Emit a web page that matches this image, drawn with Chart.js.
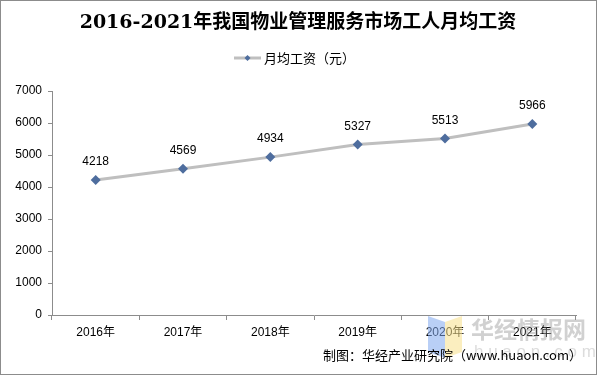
<!DOCTYPE html>
<html>
<head>
<meta charset="utf-8">
<script src="https://cdn.jsdelivr.net/npm/chart.js@4.4.0/dist/chart.umd.min.js"></script>
<style>
  body { margin: 0; background: #fff; }
  #box { position: relative; width: 597px; height: 375px; }
</style>
</head>
<body>
<div id="box"><canvas id="wageChart" width="597" height="375"></canvas></div>
<script>
// 数据
let years = ['2016年', '2017年', '2018年', '2019年', '2020年', '2021年'];
let wages = [4218, 4569, 4934, 5327, 5513, 5966];
let yTicks = [0, 1000, 2000, 3000, 4000, 5000, 6000, 7000];

let titleText = '2016-2021年我国物业管理服务市场工人月均工资';
let seriesName = '月均工资（元）';
let sourceText = '制图：华经产业研究院（www.huaon.com）';

let lineColor = '#BFBFBF';
let pointColor = '#4E6D9E';
let cjk = '"Noto Sans CJK SC", "Liberation Sans", sans-serif';
let latin = '"Liberation Sans", Arial, "Noto Sans CJK SC", sans-serif';

// 标题、图例、数据标签、水印
let decorations = {
    id: 'decorations',
    beforeDatasetsDraw(chart) {
        let c = chart.ctx;
        c.save();
        // 水印
        c.globalAlpha = 0.55;
        c.fillStyle = '#7FA8EE';
        c.beginPath();
        c.moveTo(428, 316); c.lineTo(445, 322); c.lineTo(445, 358); c.lineTo(428, 352);
        c.closePath(); c.fill();
        c.fillStyle = '#F8E08A';
        c.beginPath();
        c.moveTo(445, 322); c.lineTo(462, 316); c.lineTo(462, 352); c.lineTo(445, 358);
        c.closePath(); c.fill();
        c.globalAlpha = 0.4;
        c.fillStyle = '#8C8C8C';
        c.font = 'bold 23px ' + cjk;
        c.textAlign = 'left';
        c.textBaseline = 'middle';
        c.fillText('华经情报网', 471, 329);
        c.globalAlpha = 0.3;
        c.font = '17px ' + latin;
        c.fillText('h u a o n . c o m', 474, 352);
        c.restore();
    },
    afterDraw(chart) {
        let c = chart.ctx;
        c.save();
        // 边框
        c.strokeStyle = '#8C8C8C';
        c.lineWidth = 1;
        c.strokeRect(0.5, 0.5, 596, 374);

        // 标题
        c.fillStyle = '#000';
        c.textAlign = 'center';
        c.textBaseline = 'middle';
        c.font = 'bold 19px "DejaVu Serif", "Noto Sans CJK SC", serif';
        c.fillText(titleText, 298, 23);

        // 图例
        c.strokeStyle = lineColor;
        c.lineWidth = 3;
        c.beginPath();
        c.moveTo(234, 58); c.lineTo(261, 58);
        c.stroke();
        c.fillStyle = pointColor;
        c.beginPath();
        c.moveTo(247.5, 55); c.lineTo(250.5, 58); c.lineTo(247.5, 61); c.lineTo(244.5, 58);
        c.closePath(); c.fill();
        c.fillStyle = '#000';
        c.textAlign = 'left';
        c.font = '13px ' + cjk;
        c.fillText(seriesName, 264, 58);

        // 数据标签
        let meta = chart.getDatasetMeta(0);
        c.textAlign = 'center';
        c.font = '12px ' + latin;
        meta.data.forEach((pt, i) => {
            c.fillText(String(wages[i]), pt.x, pt.y - 18);
        });

        // 来源
        c.textAlign = 'right';
        c.font = '13px ' + cjk;
        c.fillText(sourceText, 582, 355);
        c.restore();
    }
};

let ctx = document.getElementById('wageChart').getContext('2d');
let chart = new Chart(ctx, {
    type: 'line',
    data: {
        labels: years,
        datasets: [{
            label: seriesName,
            data: wages,
            borderColor: lineColor,
            borderWidth: 3,
            pointStyle: 'rectRot',
            pointRadius: 5,
            pointBackgroundColor: pointColor,
            pointBorderColor: pointColor,
            pointBorderWidth: 0,
            fill: false,
            tension: 0
        }]
    },
    options: {
        responsive: false,
        animation: false,
        layout: { padding: { top: 91, right: 21, left: 0, bottom: 0 } },
        plugins: {
            legend: { display: false },
            title: { display: false },
            tooltip: { enabled: false }
        },
        scales: {
            x: {
                offset: true,
                grid: {
                    offset: true,
                    drawOnChartArea: false,
                    drawTicks: true,
                    tickLength: 5,
                    color: '#8C8C8C'
                },
                border: { display: true, color: '#8C8C8C', width: 1 },
                ticks: {
                    color: '#000',
                    padding: 5,
                    font: { family: latin, size: 12 }
                },
                afterFit(scale) { scale.height = 60; }
            },
            y: {
                min: 0,
                max: 7000,
                afterBuildTicks(scale) {
                    scale.ticks = yTicks.map(v => ({ value: v }));
                },
                grid: {
                    drawOnChartArea: false,
                    drawTicks: true,
                    tickLength: 4,
                    color: '#8C8C8C'
                },
                border: { display: true, color: '#8C8C8C', width: 1 },
                ticks: {
                    color: '#000',
                    padding: 6,
                    font: { family: latin, size: 12 },
                    callback: v => String(v)
                },
                afterFit(scale) { scale.width = 52; }
            }
        }
    },
    plugins: [decorations]
});
</script>
</body>
</html>
